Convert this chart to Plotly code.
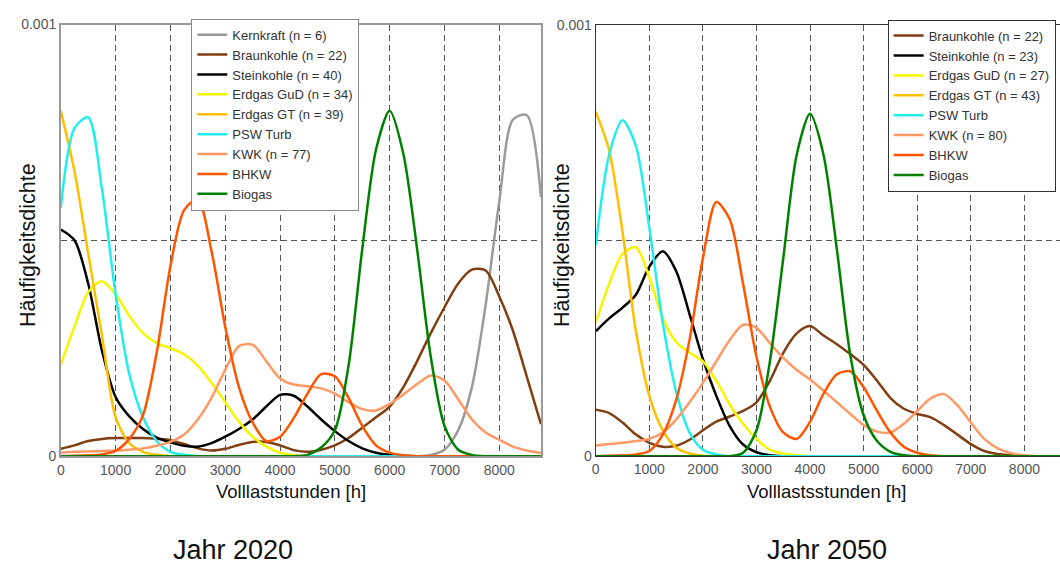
import plotly.graph_objects as go

# Full-load hours grid (h)
HOURS = [0, 250, 500, 750, 1000, 1250, 1500, 1750, 2000, 2250, 2500, 2750, 3000, 3250,
         3500, 3750, 4000, 4250, 4500, 4750, 5000, 5250, 5500, 5750, 6000, 6250, 6500,
         6750, 7000, 7250, 7500, 7750, 8000, 8250, 8500, 8760]

# Densities in units of 1e-3 per hour
# ---- Jahr 2020 ----
kernkraft_2020 = [0]*27 + [0.003, 0.015, 0.06, 0.16, 0.35, 0.59, 0.78, 0.79, 0.60]
braunkohle_2020 = [0.017, 0.025, 0.035, 0.04, 0.042, 0.042, 0.042, 0.04, 0.037, 0.028, 0.018,
                   0.013, 0.017, 0.026, 0.033, 0.033, 0.025, 0.014, 0.01, 0.015, 0.025, 0.042,
                   0.066, 0.09, 0.115, 0.16, 0.22, 0.285, 0.345, 0.40, 0.432, 0.43, 0.37, 0.29,
                   0.185, 0.074]
steinkohle_2020 = [0.525, 0.50, 0.40, 0.245, 0.137, 0.092, 0.063, 0.043, 0.032, 0.024, 0.022,
                   0.03, 0.045, 0.063, 0.085, 0.115, 0.142, 0.14, 0.115, 0.085, 0.058, 0.035,
                   0.018, 0.008, 0.003, 0.001] + [0]*10
gud_2020 = [0.212, 0.30, 0.38, 0.405, 0.375, 0.325, 0.285, 0.262, 0.25, 0.236, 0.21, 0.17, 0.125,
            0.08, 0.045, 0.022, 0.008, 0.002] + [0]*18
gt_2020 = [0.80, 0.66, 0.47, 0.28, 0.09, 0.03, 0.01, 0.003] + [0]*28
psw_2020 = [0.575, 0.76, 0.785, 0.62, 0.375, 0.19, 0.09, 0.035, 0.01, 0.003] + [0]*26
kwk_2020 = [0.008, 0.01, 0.011, 0.012, 0.013, 0.015, 0.018, 0.024, 0.033, 0.05, 0.085, 0.135,
            0.20, 0.255, 0.258, 0.22, 0.18, 0.166, 0.162, 0.157, 0.145, 0.125, 0.109, 0.106,
            0.121, 0.143, 0.167, 0.187, 0.175, 0.132, 0.085, 0.055, 0.038, 0.022, 0.013, 0.007]
bhkw_2020 = [0.0, 0.001, 0.002, 0.004, 0.012, 0.04, 0.095, 0.24, 0.44, 0.57, 0.595, 0.475, 0.30,
             0.16, 0.078, 0.035, 0.045, 0.088, 0.145, 0.19, 0.185, 0.135, 0.07, 0.025, 0.008,
             0.002] + [0]*10
biogas_2020 = [0]*18 + [0.003, 0.02, 0.06, 0.21, 0.48, 0.71, 0.80, 0.70, 0.48, 0.23, 0.07,
                        0.015, 0.003] + [0]*5

# ---- Jahr 2050 ----
braunkohle_2050 = [0.108, 0.10, 0.078, 0.05, 0.031, 0.022, 0.024, 0.038, 0.06, 0.08, 0.092,
                   0.105, 0.125, 0.175, 0.24, 0.285, 0.302, 0.28, 0.26, 0.237, 0.212, 0.175,
                   0.135, 0.11, 0.098, 0.09, 0.072, 0.05, 0.028, 0.012, 0.005, 0.002, 0, 0, 0, 0]
steinkohle_2050 = [0.29, 0.32, 0.345, 0.375, 0.44, 0.476, 0.43, 0.33, 0.225, 0.14, 0.07, 0.027,
                   0.009, 0.002] + [0]*22
gud_2050 = [0.31, 0.40, 0.47, 0.485, 0.415, 0.32, 0.265, 0.24, 0.22, 0.175, 0.12, 0.075, 0.04,
            0.015, 0.006, 0.002] + [0]*20
gt_2050 = [0.80, 0.71, 0.52, 0.29, 0.14, 0.06, 0.02, 0.006, 0.001] + [0]*27
psw_2050 = [0.49, 0.70, 0.78, 0.72, 0.53, 0.31, 0.15, 0.055, 0.015, 0.004] + [0]*26
kwk_2050 = [0.025, 0.028, 0.031, 0.035, 0.04, 0.055, 0.085, 0.125, 0.17, 0.22, 0.27, 0.305,
            0.298, 0.262, 0.228, 0.20, 0.178, 0.152, 0.125, 0.098, 0.072, 0.057, 0.055, 0.075,
            0.105, 0.134, 0.144, 0.118, 0.078, 0.04, 0.018, 0.007, 0.002, 0, 0, 0]
bhkw_2050 = [0, 0.001, 0.002, 0.004, 0.012, 0.05, 0.13, 0.27, 0.46, 0.59, 0.55, 0.40, 0.23,
             0.115, 0.055, 0.04, 0.08, 0.145, 0.19, 0.197, 0.16, 0.105, 0.055, 0.022, 0.008,
             0.002] + [0]*10
biogas_2050 = [0]*11 + [0.008, 0.06, 0.22, 0.46, 0.70, 0.795, 0.70, 0.48, 0.235, 0.095, 0.035,
                        0.01, 0.002] + [0]*12

SERIES_2020 = [
    ("Kernkraft (n = 6)", kernkraft_2020, "#9a9a9a"),
    ("Braunkohle (n = 22)", braunkohle_2020, "#7f3f12"),
    ("Steinkohle (n = 40)", steinkohle_2020, "#000000"),
    ("Erdgas GuD (n = 34)", gud_2020, "#f5f500"),
    ("Erdgas GT (n = 39)", gt_2020, "#ffbf00"),
    ("PSW Turb", psw_2020, "#22eeee"),
    ("KWK (n = 77)", kwk_2020, "#ff9966"),
    ("BHKW", bhkw_2020, "#ff5500"),
    ("Biogas", biogas_2020, "#008000"),
]
SERIES_2050 = [
    ("Braunkohle (n = 22)", braunkohle_2050, "#7f3f12"),
    ("Steinkohle (n = 23)", steinkohle_2050, "#000000"),
    ("Erdgas GuD (n = 27)", gud_2050, "#f5f500"),
    ("Erdgas GT (n = 43)", gt_2050, "#ffbf00"),
    ("PSW Turb", psw_2050, "#22eeee"),
    ("KWK (n = 80)", kwk_2050, "#ff9966"),
    ("BHKW", bhkw_2050, "#ff5500"),
    ("Biogas", biogas_2050, "#008000"),
]

X_TICKS = [0, 1000, 2000, 3000, 4000, 5000, 6000, 7000, 8000]
Y_TICKS = [0, 0.0005, 0.001]
Y_TICKTEXT = ["0", "", "0.001"]

FONT = "Liberation Sans, Arial, sans-serif"
W, H = 1060, 574

fig = go.Figure()
for name, vals, col in SERIES_2020:
    fig.add_trace(go.Scatter(x=HOURS, y=[v * 1e-3 for v in vals], name=name, mode="lines",
                             line=dict(color=col, width=2.5, shape="spline", smoothing=0.8),
                             xaxis="x", yaxis="y", legend="legend"))
for name, vals, col in SERIES_2050:
    fig.add_trace(go.Scatter(x=HOURS, y=[v * 1e-3 for v in vals], name=name, mode="lines",
                             line=dict(color=col, width=2.5, shape="spline", smoothing=0.8),
                             xaxis="x2", yaxis="y2", legend="legend2"))

def px_x(p):
    return p / W

def px_y(p):
    return 1 - p / H

grid = dict(showgrid=True, gridcolor="#555555", gridwidth=1, griddash="6px,4px",
            zeroline=False, ticks="", tickfont=dict(family=FONT, size=14, color="#555555"))

fig.update_layout(
    width=W, height=H,
    margin=dict(l=0, r=0, t=0, b=0),
    paper_bgcolor="white", plot_bgcolor="white",
    font=dict(family=FONT, color="#222222"),
    xaxis=dict(domain=[px_x(57), px_x(539)], range=[0, 8760], tickvals=X_TICKS,
               showline=True, linecolor="#999999", linewidth=1.5, mirror=True, anchor="y", **grid),
    yaxis=dict(domain=[px_y(461), px_y(17)], range=[0, 0.001], tickvals=Y_TICKS,
               ticktext=Y_TICKTEXT, showline=True, linecolor="#999999", linewidth=1.5,
               mirror=True, anchor="x", **grid),
    xaxis2=dict(domain=[px_x(594), 1.0], range=[0, 8664], tickvals=X_TICKS,
                showline=True, linecolor="#333333", linewidth=1.2, mirror=True, anchor="y2", **grid),
    yaxis2=dict(domain=[px_y(461), px_y(18)], range=[0, 0.001], tickvals=Y_TICKS,
                ticktext=Y_TICKTEXT, showline=True, linecolor="#333333", linewidth=1.2,
                mirror=False, anchor="x2", **grid),
    legend=dict(x=px_x(188), y=px_y(11), xanchor="left", yanchor="top",
                bgcolor="white", bordercolor="#888888", borderwidth=1,
                font=dict(family=FONT, size=13, color="#333333"), itemwidth=30,
                tracegroupgap=0),
    legend2=dict(x=px_x(887), y=px_y(12), xanchor="left", yanchor="top",
                 bgcolor="white", bordercolor="#333333", borderwidth=1,
                 font=dict(family=FONT, size=13, color="#333333"), itemwidth=30,
                 tracegroupgap=0),
    showlegend=True,
)

ann = [
    dict(text="Volllaststunden [h]", x=px_x(288), y=px_y(497), size=18.5, angle=0),
    dict(text="Volllastsstunden [h]", x=px_x(826), y=px_y(497), size=18.5, angle=0),
    dict(text="Häufigkeitsdichte", x=px_x(24), y=px_y(244), size=21.5, angle=-90),
    dict(text="Häufigkeitsdichte", x=px_x(560), y=px_y(244), size=21.5, angle=-90),
    dict(text="Jahr 2020", x=px_x(230), y=px_y(558), size=27, angle=0),
    dict(text="Jahr 2050", x=px_x(826), y=px_y(558), size=27, angle=0),
]
for a in ann:
    fig.add_annotation(text=a["text"], x=a["x"], y=a["y"], xref="paper", yref="paper",
                       xanchor="center", yanchor="middle", showarrow=False,
                       textangle=a["angle"], font=dict(family=FONT, size=a["size"], color="#111111"))

fig.write_html("out.html")
